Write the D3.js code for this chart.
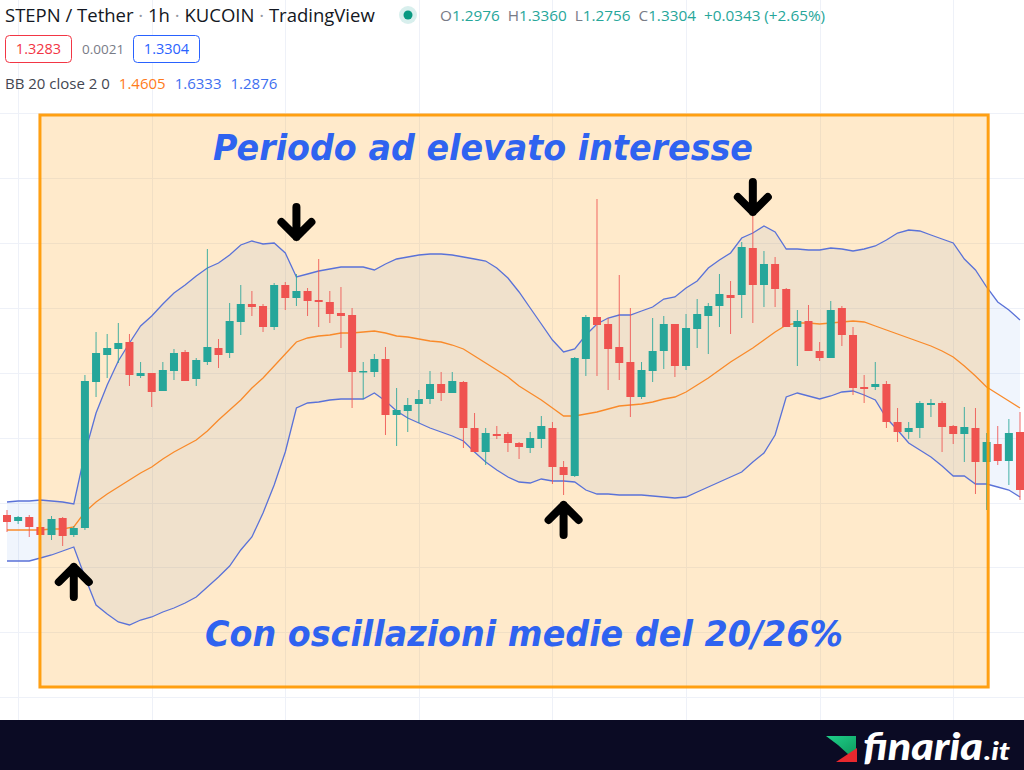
<!DOCTYPE html>
<html><head><meta charset="utf-8">
<script src="https://cdn.jsdelivr.net/npm/d3@7"></script>
<style>html,body{margin:0;padding:0;background:#fff;overflow:hidden}svg{display:block}</style>
</head><body><svg id="c" width="1024" height="770"></svg>
<script>
// ---- DATA (STEPN/USDT, 1h candles) ----
const opens = [1.2475,1.2355,1.2435,1.2235,1.2075,1.2415,1.2075,1.2215,1.5135,1.5675,
1.5795,1.5935,1.5255,1.5315,1.4955,1.5355,1.5735,1.5195,1.5535,1.5815,
1.5715,1.6335,1.6695,1.6655,1.6235,1.7075,1.6815,1.6955,1.6775,1.6735,
1.6515,1.6475,1.5335,1.5335,1.5595,1.4475,1.4555,1.4695,1.4795,1.5095,
1.4915,1.5135,1.4215,1.3735,1.4095,1.4095,1.3915,1.3815,1.3995,1.4215,
1.3435,1.3255,1.5595,1.6435,1.6295,1.5835,1.5535,1.4835,1.5355,1.5755,
1.6295,1.5455,1.6195,1.6455,1.6655,1.6875,1.6875,1.7815,1.7075,1.7495,
1.6995,1.6235,1.6355,1.5755,1.5615,1.6615,1.6075,1.5035,1.5035,1.5095,
1.4335,1.4135,1.4215,1.4675,1.4715,1.4255,1.4095,1.4215,1.3535,1.3895,
1.3555,1.4135];
const highs = [1.2575,1.2455,1.2475,1.2335,1.2455,1.2435,1.2255,1.5275,1.6135,1.6095,
1.6315,1.6095,1.5535,1.5315,1.5535,1.5795,1.5775,1.5615,1.7795,1.5995,
1.6715,1.7075,1.6955,1.6695,1.7115,1.7135,1.7295,1.7015,1.7595,1.6955,
1.7035,1.6615,1.5535,1.5695,1.5835,1.5015,1.4815,1.4975,1.5355,1.5335,
1.5335,1.5155,1.4515,1.4215,1.4255,1.4135,1.3935,1.4135,1.4455,1.4335,
1.3555,1.5635,1.6475,1.8795,1.6415,1.7275,1.6615,1.5535,1.6415,1.6455,
1.6295,1.6495,1.6795,1.6715,1.7295,1.7155,1.7935,1.9175,1.7755,1.7635,
1.7015,1.6575,1.6675,1.5935,1.6755,1.6655,1.6235,1.5275,1.5535,1.5155,
1.4615,1.4335,1.4755,1.4795,1.4755,1.4275,1.4635,1.4615,1.4115,1.4255,
1.4395,1.4535];
const lows = [1.2135,1.2295,1.2035,1.1975,1.1975,1.1855,1.2035,1.2175,1.4835,1.5215,
1.5515,1.5055,1.5215,1.4635,1.4955,1.5175,1.5155,1.5055,1.5475,1.5415,
1.5615,1.6075,1.6455,1.6135,1.6175,1.6575,1.6655,1.6455,1.6235,1.6315,
1.5815,1.4615,1.4795,1.5235,1.4075,1.3855,1.4135,1.4315,1.4695,1.4755,
1.4915,1.3815,1.3735,1.3475,1.3995,1.3735,1.3595,1.3715,1.3815,1.3095,
1.2875,1.3235,1.5255,1.5255,1.4975,1.5175,1.4435,1.4795,1.5135,1.5395,
1.5235,1.5375,1.5815,1.5695,1.6235,1.6095,1.6415,1.6315,1.6635,1.6635,
1.6235,1.5455,1.5755,1.5555,1.5615,1.5855,1.4875,1.4715,1.4975,1.4215,
1.3935,1.3995,1.4015,1.4435,1.3735,1.3895,1.3535,1.2895,1.2575,1.3475,
1.3075,1.2775];
const closes = [1.2335,1.2435,1.2235,1.2075,1.2395,1.2055,1.2215,1.5155,1.5715,1.5815,
1.5915,1.5275,1.5315,1.4935,1.5375,1.5715,1.5155,1.5575,1.5835,1.5675,
1.6355,1.6695,1.6635,1.6235,1.7075,1.6815,1.6955,1.6755,1.6735,1.6495,
1.6455,1.5335,1.5355,1.5595,1.4475,1.4575,1.4675,1.4795,1.5095,1.4915,
1.5155,1.4215,1.3735,1.4115,1.4055,1.3915,1.3835,1.4015,1.4255,1.3435,
1.3275,1.5615,1.6435,1.6275,1.5795,1.5515,1.4835,1.5375,1.5755,1.6295,
1.5455,1.6215,1.6495,1.6655,1.6895,1.6815,1.7835,1.7075,1.7495,1.6995,
1.6235,1.6355,1.5755,1.5615,1.6575,1.6075,1.5015,1.4995,1.5095,1.4335,
1.4135,1.4215,1.4715,1.4715,1.4235,1.4095,1.4235,1.3535,1.3935,1.3555,
1.4115,1.2975];
// Bollinger Bands (20, 2) as drawn
const bbUpper = [1.2735,1.2755,1.2755,1.2775,1.2755,1.2735,1.2695,1.3715,1.4515,1.5075,
1.5555,1.5915,1.6255,1.6455,1.6695,1.6915,1.7075,1.7255,1.7415,1.7515,
1.7675,1.7875,1.7955,1.7895,1.7915,1.7715,1.7235,1.7295,1.7355,1.7395,
1.7435,1.7435,1.7435,1.7375,1.7495,1.7595,1.7635,1.7675,1.7695,1.7695,
1.7675,1.7635,1.7595,1.7555,1.7415,1.7215,1.6935,1.6615,1.6295,1.5975,
1.5735,1.5795,1.6075,1.6295,1.6415,1.6475,1.6475,1.6555,1.6635,1.6795,
1.6835,1.7015,1.7155,1.7415,1.7575,1.7715,1.8015,1.8115,1.8255,1.8135,
1.7795,1.7795,1.7775,1.7775,1.7815,1.7795,1.7755,1.7795,1.7855,1.7975,
1.8115,1.8175,1.8155,1.8075,1.7995,1.7915,1.7595,1.7375,1.7035,1.6735,
1.6575,1.6375];
const bbBasis = [1.2175,1.2175,1.2175,1.2175,1.2195,1.2195,1.2235,1.2535,1.2735,1.2895,
1.3035,1.3175,1.3315,1.3435,1.3595,1.3735,1.3855,1.3975,1.4155,1.4375,
1.4575,1.4775,1.5015,1.5215,1.5455,1.5695,1.5935,1.6015,1.6055,1.6075,
1.6115,1.6115,1.6135,1.6155,1.6115,1.6055,1.6035,1.5995,1.5955,1.5935,
1.5875,1.5795,1.5655,1.5515,1.5375,1.5235,1.5055,1.4915,1.4775,1.4615,
1.4455,1.4455,1.4495,1.4535,1.4595,1.4655,1.4675,1.4695,1.4735,1.4795,
1.4835,1.4935,1.5075,1.5215,1.5375,1.5535,1.5675,1.5815,1.5975,1.6135,
1.6275,1.6315,1.6315,1.6295,1.6315,1.6335,1.6355,1.6335,1.6255,1.6175,
1.6095,1.6015,1.5935,1.5855,1.5755,1.5635,1.5455,1.5255,1.5035,1.4895,
1.4755,1.4615];
const bbLower = [1.1555,1.1555,1.1555,1.1615,1.1675,1.1755,1.1835,1.1235,1.0675,1.0495,
1.0335,1.0275,1.0375,1.0435,1.0535,1.0615,1.0715,1.0835,1.1035,1.1235,
1.1455,1.1775,1.2035,1.2515,1.3075,1.3735,1.4615,1.4715,1.4735,1.4775,
1.4795,1.4795,1.4795,1.4915,1.4755,1.4555,1.4415,1.4315,1.4215,1.4135,
1.4055,1.3955,1.3735,1.3535,1.3375,1.3235,1.3135,1.3115,1.3195,1.3155,
1.3155,1.3135,1.2975,1.2895,1.2895,1.2875,1.2875,1.2875,1.2855,1.2835,
1.2815,1.2835,1.2935,1.3035,1.3135,1.3235,1.3335,1.3535,1.3715,1.4075,
1.4835,1.4915,1.4855,1.4795,1.4855,1.4935,1.4955,1.4875,1.4775,1.4415,
1.4175,1.3915,1.3775,1.3635,1.3455,1.3255,1.3255,1.3095,1.3095,1.3035,
1.2975,1.2835];
// price grid levels and time-grid candle indices
const gridPrices = [2.0515,1.9215,1.7915,1.6615,1.5315,1.4015,1.2715,1.1435,1.0135,0.8835];
const gridCandles = [1,13,25,37,49,61,73,85];
// annotations
const highlight = {from: 2.96, to: 88.14, top: 2.0475, bottom: 0.9035};
const arrowMarks = [{i:6, tip:1.1435, dir:"up"},{i:50, tip:1.2675, dir:"up"},{i:26, tip:1.8035, dir:"down"},{i:67, tip:1.8535, dir:"down"}];
const titleText = "Periodo ad elevato interesse";
const subText = "Con oscillazioni medie del 20/26%";
const headerTitle = ["STEPN / Tether"," · ","1h"," · ","KUCOIN"," · ","TradingView"];
const ohlcLabels = ["O","H","L","C"];
const ohlcValues = ["1.2976","1.3360","1.2756","1.3304"];
const changeText = "+0.0343 (+2.65%)";
const bidAsk = ["1.3283","0.0021","1.3304"];
const bbLegend = {name:"BB 20 close 2 0", values:["1.4605","1.6333","1.2876"]};

// ---- DRAW ----
const W = 1024, H = 770;
const svg = d3.select("#c");
const n = closes.length;
const x = d3.scaleLinear().domain([0, 91]).range([7, 1020]);
const y = d3.scaleLinear().domain([2.2775, 0.7375]).range([0, 770]);
const GREEN = "#26a69a", RED = "#ef5350";

const chart = svg.append("g");
// grid
chart.selectAll("line.hg").data(gridPrices).join("line")
  .attr("x1", 0).attr("x2", W).attr("y1", d => Math.round(y(d)) + 0.5).attr("y2", d => Math.round(y(d)) + 0.5)
  .attr("stroke", "#eef1f8").attr("stroke-width", 1);
chart.selectAll("line.vg").data(gridCandles).join("line")
  .attr("y1", 0).attr("y2", 720).attr("x1", d => Math.round(x(d)) + 0.5).attr("x2", d => Math.round(x(d)) + 0.5)
  .attr("stroke", "#eef1f8").attr("stroke-width", 1);

// highlight box fill (under the series)
const hx = x(highlight.from), hy = y(highlight.top);
const hw = x(highlight.to) - x(highlight.from), hh = y(highlight.bottom) - y(highlight.top);
chart.append("rect").attr("x", hx).attr("y", hy).attr("width", hw).attr("height", hh)
  .attr("fill", "rgba(255,160,20,0.22)");

const idx = d3.range(n);
// band fill
chart.append("path").datum(idx)
  .attr("d", d3.area().x(i => x(i)).y0(i => y(bbLower[i])).y1(i => y(bbUpper[i])))
  .attr("fill", "rgba(40,120,230,0.07)");
const line = arr => d3.line().x(i => x(i)).y(i => y(arr[i]));
chart.append("path").datum(idx).attr("d", line(bbUpper)).attr("fill", "none").attr("stroke", "#5a72d8").attr("stroke-width", 1.3);
chart.append("path").datum(idx).attr("d", line(bbLower)).attr("fill", "none").attr("stroke", "#5a72d8").attr("stroke-width", 1.3);
chart.append("path").datum(idx).attr("d", line(bbBasis)).attr("fill", "none").attr("stroke", "#f98a2a").attr("stroke-width", 1.3);

// candles
const cg = chart.append("g");
const candles = cg.selectAll("g").data(idx).join("g");
candles.append("line")
  .attr("x1", i => x(i)).attr("x2", i => x(i))
  .attr("y1", i => y(highs[i])).attr("y2", i => y(lows[i]))
  .attr("stroke", i => closes[i] >= opens[i] ? GREEN : RED).attr("stroke-width", 1).attr("opacity", 0.85);
candles.append("rect")
  .attr("x", i => x(i) - 4).attr("width", 8)
  .attr("y", i => y(Math.max(opens[i], closes[i])))
  .attr("height", i => Math.max(1.5, Math.abs(y(opens[i]) - y(closes[i]))))
  .attr("fill", i => closes[i] >= opens[i] ? GREEN : RED);

// highlight box border (on top)
svg.append("rect").attr("x", hx).attr("y", hy).attr("width", hw).attr("height", hh)
  .attr("fill", "none").attr("stroke", "rgba(255,152,0,0.92)").attr("stroke-width", 3);

// arrows
const L = 30, A = 15;
svg.selectAll("path.arrow").data(arrowMarks).join("path")
  .attr("d", d => {
    const tx = x(d.i), ty = y(d.tip), s = d.dir === "up" ? 1 : -1;
    return `M${tx},${ty + s * L}L${tx},${ty}M${tx - A},${ty + s * A}L${tx},${ty}L${tx + A},${ty + s * A}`;
  })
  .attr("fill", "none").attr("stroke", "#000").attr("stroke-width", 8)
  .attr("stroke-linecap", "round").attr("stroke-linejoin", "round");

// big annotation texts
svg.append("text").attr("x", 213).attr("y", 160).text(titleText)
  .attr("font-family", "'DejaVu Sans', Verdana, sans-serif").attr("font-weight", "bold").attr("font-style", "italic")
  .attr("font-size", 36).attr("fill", "#2f63f0")
  .attr("textLength", 540).attr("lengthAdjust", "spacingAndGlyphs");
svg.append("text").attr("x", 205).attr("y", 646).text(subText)
  .attr("font-family", "'DejaVu Sans', Verdana, sans-serif").attr("font-weight", "bold").attr("font-style", "italic")
  .attr("font-size", 36).attr("fill", "#2f63f0")
  .attr("textLength", 638).attr("lengthAdjust", "spacingAndGlyphs");

// header legend
const hf = "'Open Sans', Roboto, sans-serif";
const t1 = svg.append("text").attr("x", 5).attr("y", 22).attr("font-family", hf).attr("font-size", 18.5).attr("fill", "#131722");
headerTitle.forEach((s, k) => t1.append("tspan").text(s).attr("fill", k % 2 ? "#9598a1" : "#131722"));
svg.append("circle").attr("cx", 408).attr("cy", 15).attr("r", 9).attr("fill", "rgba(38,166,154,0.18)");
svg.append("circle").attr("cx", 408).attr("cy", 15).attr("r", 4.5).attr("fill", "#089981");
const t2 = svg.append("text").attr("x", 440).attr("y", 21).attr("font-family", hf).attr("font-size", 15.3).attr("fill", "#26a69a");
ohlcLabels.forEach((lab, k) => {
  t2.append("tspan").text(lab).attr("fill", "#787b86").attr("dx", k ? 8 : 0);
  t2.append("tspan").text(ohlcValues[k]).attr("fill", "#26a69a");
});
t2.append("tspan").text(changeText).attr("fill", "#26a69a").attr("dx", 8);

// bid / ask boxes
svg.append("rect").attr("x", 5.5).attr("y", 35.5).attr("width", 66).attr("height", 27).attr("rx", 4)
  .attr("fill", "#fff").attr("stroke", "#f23645");
svg.append("text").attr("x", 38.5).attr("y", 54).attr("text-anchor", "middle").attr("font-family", hf).attr("font-size", 14.5).attr("fill", "#f23645").text(bidAsk[0]);
svg.append("text").attr("x", 82).attr("y", 54).attr("font-family", hf).attr("font-size", 13.5).attr("fill", "#787b86").text(bidAsk[1]);
svg.append("rect").attr("x", 133.5).attr("y", 35.5).attr("width", 66).attr("height", 27).attr("rx", 4)
  .attr("fill", "#fff").attr("stroke", "#2962ff");
svg.append("text").attr("x", 166.5).attr("y", 54).attr("text-anchor", "middle").attr("font-family", hf).attr("font-size", 14.5).attr("fill", "#2962ff").text(bidAsk[2]);

// BB legend
const t3 = svg.append("text").attr("x", 5).attr("y", 89).attr("font-family", hf).attr("font-size", 15).attr("fill", "#131722");
t3.append("tspan").text(bbLegend.name).attr("fill", "#434651");
const bbCols = ["#ff7b1c", "#3e6ff0", "#3e6ff0"];
bbLegend.values.forEach((v, k) => t3.append("tspan").text(v).attr("dx", 9).attr("fill", bbCols[k]));

// footer
svg.append("rect").attr("x", 0).attr("y", 720).attr("width", W).attr("height", 50).attr("fill", "#0b0b24");
const defs = svg.append("defs");
const gr = defs.append("linearGradient").attr("id", "lg").attr("x1", 0).attr("y1", 0).attr("x2", 1).attr("y2", 1);
gr.append("stop").attr("offset", 0).attr("stop-color", "#1fd08a");
gr.append("stop").attr("offset", 1).attr("stop-color", "#0e9a5e");
svg.append("path").attr("d", "M826,736L856,736L856,755L849,755L838,745Z").attr("fill", "url(#lg)");
svg.append("path").attr("d", "M836,762L857,748L857,762Z").attr("fill", "#e8282e");
svg.append("text").attr("x", 863).attr("y", 760).text("finaria")
  .attr("font-family", "Lato, 'Open Sans', sans-serif").attr("font-weight", 900).attr("font-style", "italic")
  .attr("font-size", 38).attr("fill", "#fff").attr("textLength", 120).attr("lengthAdjust", "spacingAndGlyphs");
svg.append("text").attr("x", 984).attr("y", 760).text(".it")
  .attr("font-family", "Lato, 'Open Sans', sans-serif").attr("font-weight", 900).attr("font-style", "italic")
  .attr("font-size", 25).attr("fill", "#fff").attr("textLength", 26).attr("lengthAdjust", "spacingAndGlyphs");
</script>
</body></html>
